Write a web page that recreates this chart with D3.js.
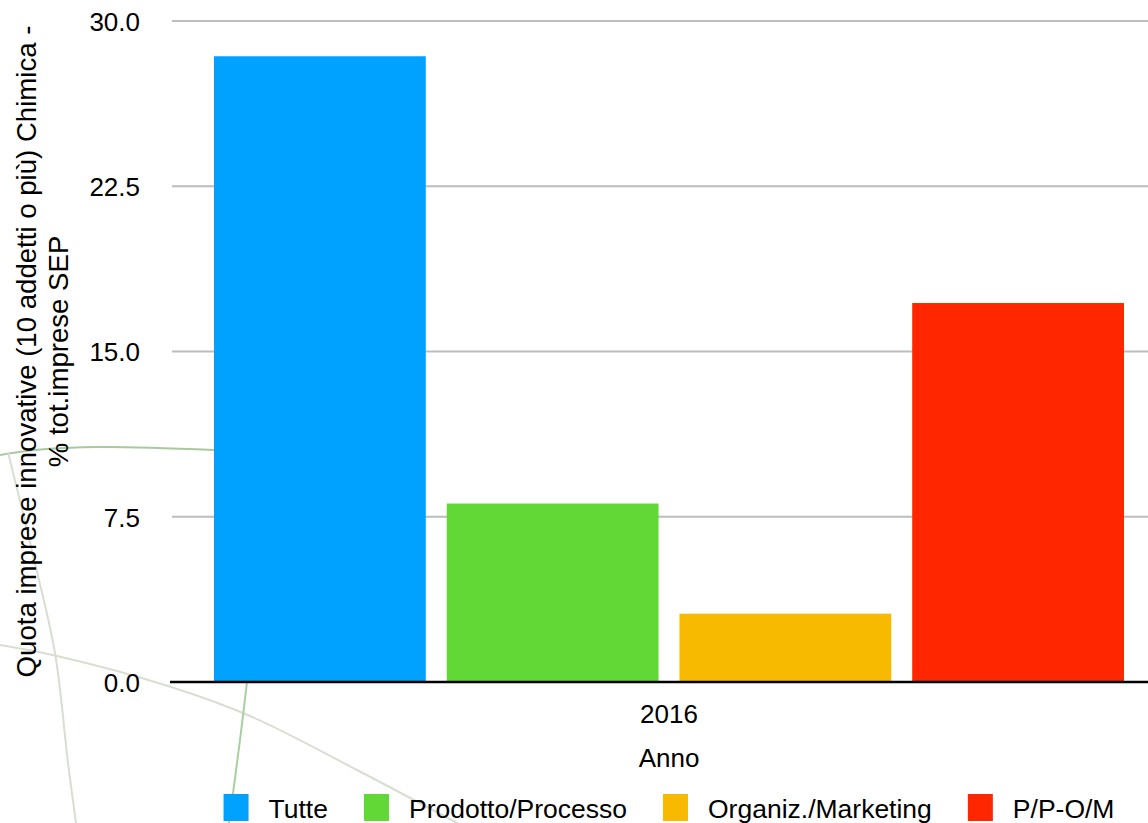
<!DOCTYPE html>
<html>
<head>
<meta charset="utf-8">
<script src="https://cdn.jsdelivr.net/npm/d3@7"></script>
<style>
  html, body { margin: 0; padding: 0; background: #ffffff; }
  svg { display: block; }
  text { font-family: "Liberation Sans", Arial, Helvetica, sans-serif; fill: #000; }
</style>
</head>
<body>
<svg id="chart" width="1148" height="823"></svg>
<script>
// ---- data ----
const years = ["2016"];
const seriesNames = ["Tutte", "Prodotto/Processo", "Organiz./Marketing", "P/P-O/M"];
const values2016 = [28.4, 8.1, 3.1, 17.2];
const yTicks = [0, 7.5, 15, 22.5, 30];
const seriesColors = ["#00a2ff", "#61d836", "#f8ba00", "#ff2600"];
const yTitleLines = ["Quota imprese innovative (10 addetti o più) Chimica -", "% tot.imprese SEP"];
const xTitle = "Anno";

// ---- layout ----
const W = 1148, H = 823;
const plot = { left: 172, right: 1148, top: 21, bottom: 682 };
const svg = d3.select("#chart");

// faint decorative background strokes (watermark-like)
const deco = svg.append("g").attr("fill", "none");
const curve = d3.line().curve(d3.curveCatmullRom);
const decoPaths = [
  { pts: [[0,455],[35,450],[100,447],[214,450]], c: "#a9c9a0", w: 2 },
  { pts: [[0,645],[57,656],[168,686],[250,716],[357,770],[470,830]], c: "#d8ded2", w: 2 },
  { pts: [[8,452],[33,555],[55,653],[68,763],[76,823]], c: "#d8ded2", w: 2 },
  { pts: [[247,682],[240,740],[229,823]], c: "#a9cfa0", w: 2 }
];
decoPaths.forEach(p => deco.append("path").attr("d", curve(p.pts)).attr("stroke", p.c).attr("stroke-width", p.w));

// scales
const y = d3.scaleLinear().domain([0, 30]).range([plot.bottom, plot.top]);
const x0 = d3.scaleBand().domain(years).range([214, 1124]).padding(0);
const x1 = d3.scaleBand().domain(seriesNames).range([0, x0.bandwidth()]).paddingInner(0.09).paddingOuter(0);

// gridlines
const grid = svg.append("g");
grid.selectAll("line").data(yTicks.filter(t => t > 0)).join("line")
  .attr("x1", plot.left).attr("x2", plot.right)
  .attr("y1", d => y(d)).attr("y2", d => y(d))
  .attr("stroke", "#bdbdbd").attr("stroke-width", 2);

// y axis labels
const yAxis = d3.axisLeft(y).tickValues(yTicks).tickFormat(d3.format(".1f")).tickSize(0).tickPadding(0);
const yg = svg.append("g").attr("transform", `translate(140,0)`).call(yAxis);
yg.select(".domain").remove();
yg.selectAll("text").attr("font-size", 26).attr("font-family", "Liberation Sans, Arial, sans-serif").attr("fill", "#000").attr("dy", "0.36em");

// bars
const rows = seriesNames.map((s, i) => ({ series: s, year: years[0], value: values2016[i], color: seriesColors[i] }));
svg.append("g").selectAll("rect").data(rows).join("rect")
  .attr("x", d => x0(d.year) + x1(d.series))
  .attr("width", x1.bandwidth())
  .attr("y", d => y(d.value))
  .attr("height", d => y(0) - y(d.value))
  .attr("fill", d => d.color);

// baseline
svg.append("line").attr("x1", 170).attr("x2", plot.right)
  .attr("y1", y(0)).attr("y2", y(0)).attr("stroke", "#000").attr("stroke-width", 2.5);

// x axis category label
const xAxis = d3.axisBottom(x0).tickSize(0).tickPadding(0);
const xg = svg.append("g").attr("transform", `translate(0,${y(0)})`).call(xAxis);
xg.select(".domain").remove();
xg.selectAll("text").attr("font-size", 26).attr("font-family", "Liberation Sans, Arial, sans-serif").attr("fill", "#000").attr("dy", null).attr("y", 41);

const xc = x0(years[0]) + x0.bandwidth() / 2;
svg.append("text").attr("x", xc).attr("y", 767).attr("text-anchor", "middle").attr("font-size", 26).text(xTitle);

// y title
const yc = (plot.top + plot.bottom) / 2;
yTitleLines.forEach((t, i) => {
  svg.append("text")
    .attr("transform", `translate(${36 + i * 32},${yc}) rotate(-90)`)
    .attr("text-anchor", "middle").attr("font-size", 27.6).text(t);
});

// legend
const lg = svg.append("g");
const items = lg.selectAll("g").data(seriesNames).join("g");
items.append("rect").attr("width", 25).attr("height", 27).attr("y", 794)
  .attr("fill", (d, i) => seriesColors[i]);
items.append("text").attr("x", 45).attr("y", 818).attr("font-size", 26.5).text(d => d);
let cx = 0;
const offsets = [];
items.each(function () {
  offsets.push(cx);
  const tw = this.querySelector("text").getComputedTextLength();
  cx += 45 + tw + 36;
});
const totalW = cx - 36;
const startX = xc - totalW / 2;
items.attr("transform", (d, i) => `translate(${startX + offsets[i]},0)`);
</script>
</body>
</html>
